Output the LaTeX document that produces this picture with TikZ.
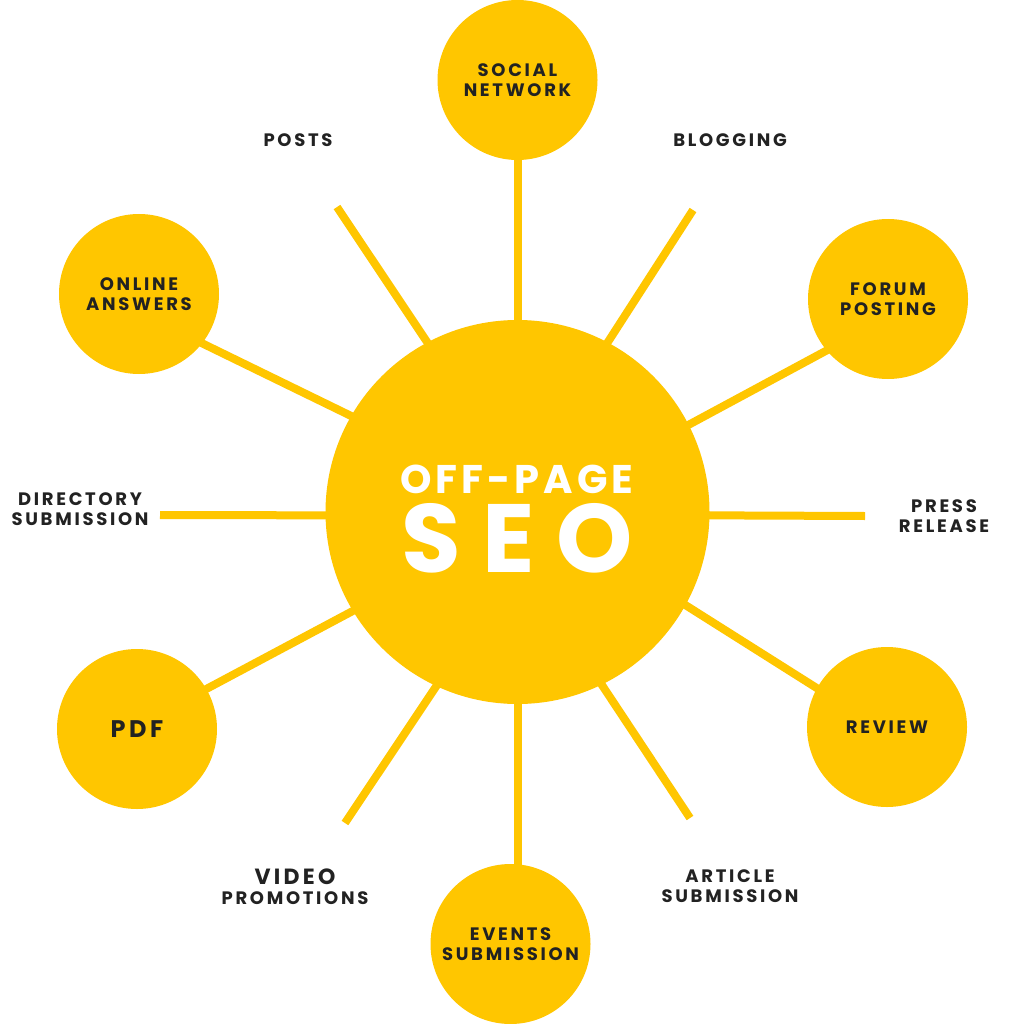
\documentclass[tikz,border=0pt]{standalone}
\usepackage{fontspec}
\setmainfont{Poppins}[LetterSpace=15]
\newfontfamily\hubfont{Poppins}[LetterSpace=10]
\newfontfamily\seofont{Poppins}[LetterSpace=22]
\definecolor{seoyellow}{HTML}{FFC600}
\definecolor{seoink}{HTML}{222222}

\begin{document}
\begin{tikzpicture}
  [x=1pt,y=-1pt,
   bubble/.style={circle,fill=seoyellow,inner sep=0pt,outer sep=0pt,minimum size=160pt,
     text=seoink,align=center,font=\bfseries\fontsize{18}{20}\selectfont},
   tag/.style={text=seoink,align=center,font=\bfseries\fontsize{18}{20}\selectfont},
   spoke/.style={draw=seoyellow,line width=8pt,shorten <=-3pt},
   link/.style={spoke,shorten >=-3pt}]
  \fill [white] (0,0) rectangle (1024,1024);

  \node (hub) at (517.5,512) [circle,fill=seoyellow,inner sep=0pt,outer sep=0pt,minimum size=384pt] {};
  \node (offpage) at (517,479) [text=white,font=\hubfont\bfseries\fontsize{40}{40}\selectfont] {OFF-PAGE};
  \node (seo) at (517,538) [text=white,font=\seofont\bfseries\fontsize{97}{97}\selectfont] {SEO};

  \node (social) at (517.5,80) [bubble] {SOCIAL\\NETWORK};
  \node (forum) at (888,299) [bubble] {FORUM\\POSTING};
  \node (review) at (887,727) [bubble] {REVIEW};
  \node (events) at (510.5,944) [bubble] {EVENTS\\SUBMISSION};
  \node (pdf) at (137,729) [bubble,font=\bfseries\fontsize{24}{24}\selectfont] {PDF};
  \node (online) at (139,294) [bubble] {ONLINE\\ANSWERS};

  \node (posts) at (298,140) [tag] {POSTS};
  \node (blogging) at (730,140) [tag] {BLOGGING};
  \node (directory) at (80,509) [tag] {DIRECTORY\\SUBMISSION};
  \node (press) at (944,516) [tag] {PRESS\\RELEASE};
  \node (video) at (295,887) [tag] {{\fontsize{22}{22}\selectfont VIDEO}\\PROMOTIONS};
  \node (article) at (730,886) [tag] {ARTICLE\\SUBMISSION};

  \coordinate (blog-end) at (693,210);
  \coordinate (press-end) at (865,516);
  \coordinate (article-end) at (690,818);
  \coordinate (video-end) at (345,823);
  \coordinate (dir-end) at (160,515);
  \coordinate (posts-end) at (337,207);

  \draw [link] (hub.90) -- (social.270);
  \draw [spoke] (hub.62.6) -- (blog-end);
  \draw [link] (hub.27) -- (forum.220);
  \draw [spoke] (hub.-1) -- (press-end);
  \draw [link] (hub.-29) -- (review.151);
  \draw [spoke] (hub.-64.6) -- (article-end);
  \draw [link] (hub.270) -- (events.north -| hub.south);
  \draw [spoke] (hub.245.6) -- (video-end);
  \draw [link] (hub.211.3) -- (pdf.30.3);
  \draw [spoke] (hub.181) -- (dir-end);
  \draw [link] (hub.150.4) -- (online.-38);
  \draw [spoke] (hub.118.2) -- (posts-end);

  \useasboundingbox (0,0) rectangle (1024,1024);
\end{tikzpicture}
\end{document}
